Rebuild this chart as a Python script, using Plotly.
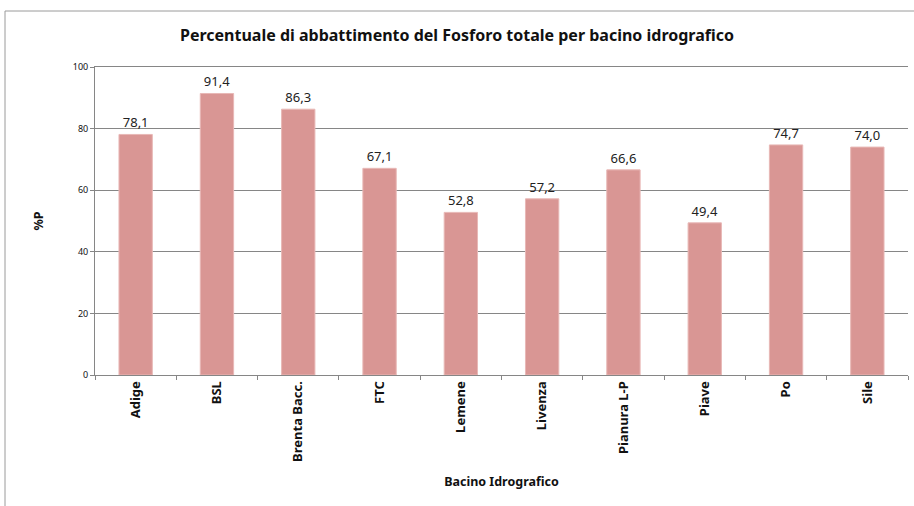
import plotly.graph_objects as go

# Phosphorus removal per river basin
bacini = ["Adige", "BSL", "Brenta Bacc.", "FTC", "Lemene", "Livenza",
          "Pianura L-P", "Piave", "Po", "Sile"]
abbattimento_p = [78.1, 91.4, 86.3, 67.1, 52.8, 57.2, 66.6, 49.4, 74.7, 74.0]
etichette = [f"{v:.1f}".replace(".", ",") for v in abbattimento_p]

W, H = 914, 506
L, R, T, B = 95, 6, 67, 131
pw, ph = W - L - R, H - T - B

def px(x):
    return (x - L) / pw

def py(y):
    return (H - B - y) / ph

fig = go.Figure(go.Bar(
    x=bacini,
    y=abbattimento_p,
    text=etichette,
    textposition="outside",
    textfont=dict(family="Noto Sans", size=13, color="#222222"),
    cliponaxis=False,
    marker=dict(color="#D99694", line=dict(color="#E8B8B6", width=1)),
    width=0.41,
))

grey = "#868686"
fig.update_layout(
    width=W, height=H,
    margin=dict(l=L, r=R, t=T, b=B),
    paper_bgcolor="white",
    plot_bgcolor="white",
    showlegend=False,
    title=dict(
        text="<b>Percentuale di abbattimento del Fosforo totale per bacino idrografico</b>",
        x=0.5, xanchor="center", y=1 - 35 / H, yanchor="middle",
        font=dict(family="Noto Sans", size=16, color="#111111"),
    ),
    xaxis=dict(
        tickangle=-90,
        tickfont=dict(family="Noto Sans", size=13, color="#111111", weight="bold"),
        showline=True, linecolor=grey, linewidth=1, mirror=True,
        ticks="outside", ticklen=4, tickcolor=grey,
        tickson="boundaries",
        showgrid=False,
        title=dict(text="<b>Bacino Idrografico</b>",
                   font=dict(family="Noto Sans", size=12.5, color="#111111"),
                   standoff=16),
    ),
    yaxis=dict(
        range=[0, 100],
        dtick=20,
        tickfont=dict(family="Noto Sans", size=9, color="#111111"),
        showline=True, linecolor=grey, linewidth=1,
        ticks="outside", ticklen=4, tickcolor=grey,
        showgrid=True, gridcolor=grey, gridwidth=1,
        zeroline=False,
        title=dict(text="<b>%P</b>",
                   font=dict(family="Noto Sans", size=12.5, color="#111111"),
                   standoff=26),
    ),
    shapes=[
        dict(type="line", xref="paper", yref="paper",
             x0=px(5), x1=px(5), y0=py(H + 5), y1=py(11),
             line=dict(color="#9a9a9a", width=1)),
        dict(type="line", xref="paper", yref="paper",
             x0=px(5), x1=px(W + 5), y0=py(11), y1=py(11),
             line=dict(color="#9a9a9a", width=1)),
    ],
)

fig.write_html("out.html")
